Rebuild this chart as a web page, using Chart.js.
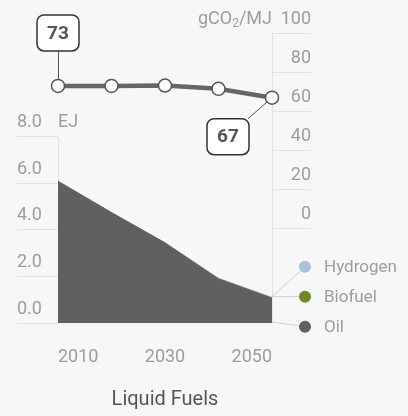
<!DOCTYPE html>
<html>
<head>
<meta charset="utf-8">
<script src="https://cdn.jsdelivr.net/npm/chart.js@4"></script>
<style>
  html, body { margin: 0; padding: 0; background: #f7f7f7; }
  #wrap { width: 408px; height: 416px; }
</style>
</head>
<body>
<div id="wrap"><canvas id="fuel-chart" width="408" height="416"></canvas></div>
<script>
const years = ["2010", "2020", "2030", "2040", "2050"];
const yearLabels = ["2010", "", "2030", "", "2050"];
const oil = [6.1, 4.75, 3.45, 1.9, 1.07];
const biofuel = [0, 0, 0, 0.01, 0.01];
const hydrogen = [0, 0, 0.01, 0.04, 0.05];
const intensity = [73, 73, 73.2, 71.5, 67];
const energyTicks = [0, 2, 4, 6, 8];
const intensityTicks = [0, 20, 40, 60, 80, 100];
const legendNames = ["Hydrogen", "Biofuel", "Oil"];
const calloutIndexes = [0, 4];

const colors = { oil: "#606060", biofuel: "#6e8b23", hydrogen: "#a9c1dd", line: "#666666", tick: "#9d9d9d", grid: "#e3e3e3" };
const FONT = "Roboto";

function roundRect(ctx, x, y, w, h, r) {
    ctx.beginPath();
    ctx.moveTo(x + r, y);
    ctx.arcTo(x + w, y, x + w, y + h, r);
    ctx.arcTo(x + w, y + h, x, y + h, r);
    ctx.arcTo(x, y + h, x, y, r);
    ctx.arcTo(x, y, x + w, y, r);
    ctx.closePath();
}

const extras = {
    id: "extras",
    beforeDatasetsDraw(chart) {
        const ctx = chart.ctx;
        const area = chart.chartArea;
        const yE = chart.scales.yE;
        const yC = chart.scales.yC;
        ctx.save();
        ctx.strokeStyle = colors.grid;
        ctx.lineWidth = 1;
        // axis lines
        ctx.beginPath();
        ctx.moveTo(area.left + 0.5, yE.getPixelForValue(8));
        ctx.lineTo(area.left + 0.5, yE.getPixelForValue(0));
        ctx.moveTo(area.right + 0.5, yC.getPixelForValue(100));
        ctx.lineTo(area.right + 0.5, area.bottom);
        ctx.stroke();

        // callout connectors
        const pts = chart.getDatasetMeta(0).data;
        ctx.strokeStyle = "#555";
        ctx.beginPath();
        const p0 = pts[calloutIndexes[0]];
        ctx.moveTo(p0.x + 0.5, p0.y - 35);
        ctx.lineTo(p0.x + 0.5, p0.y);
        const p1 = pts[calloutIndexes[1]];
        ctx.moveTo(p1.x - 24, p1.y + 21);
        ctx.lineTo(p1.x, p1.y);
        ctx.stroke();

        // legend connectors
        const last = years.length - 1;
        const top = yE.getPixelForValue(oil[last] + biofuel[last] + hydrogen[last]);
        const base = yE.getPixelForValue(0);
        const dx = area.right + 33;
        ctx.strokeStyle = "#cfcfcf";
        ctx.beginPath();
        ctx.moveTo(area.right, top);
        ctx.lineTo(dx, top - 30);
        ctx.moveTo(area.right, top);
        ctx.lineTo(dx, top);
        ctx.moveTo(area.right, base - 1);
        ctx.lineTo(dx, top + 30);
        ctx.stroke();
        ctx.restore();
    },
    afterDraw(chart) {
        const ctx = chart.ctx;
        const area = chart.chartArea;
        const yE = chart.scales.yE;
        const yC = chart.scales.yC;
        ctx.save();

        // unit labels
        ctx.fillStyle = colors.tick;
        ctx.textBaseline = "middle";
        ctx.font = "18px " + FONT;
        ctx.textAlign = "left";
        ctx.fillText("EJ", area.left, yE.getPixelForValue(8) - 14);

        const uy = yC.getPixelForValue(100) - 14;
        ctx.font = "18px " + FONT;
        const w1 = ctx.measureText("gCO").width;
        const w3 = ctx.measureText("/MJ").width;
        ctx.font = "12px " + FONT;
        const w2 = ctx.measureText("2").width;
        let ux = area.right - (w1 + w2 + w3);
        ctx.font = "18px " + FONT;
        ctx.fillText("gCO", ux, uy);
        ctx.font = "12px " + FONT;
        ctx.fillText("2", ux + w1, uy + 5);
        ctx.font = "18px " + FONT;
        ctx.fillText("/MJ", ux + w1 + w2, uy);

        // callout boxes
        const pts = chart.getDatasetMeta(0).data;
        const boxes = [
            { x: pts[calloutIndexes[0]].x, y: pts[calloutIndexes[0]].y - 53, text: String(intensity[calloutIndexes[0]]) },
            { x: pts[calloutIndexes[1]].x - 44, y: pts[calloutIndexes[1]].y + 39, text: String(intensity[calloutIndexes[1]]) }
        ];
        boxes.forEach(b => {
            roundRect(ctx, b.x - 21, b.y - 18, 42, 36, 7);
            ctx.fillStyle = "#ffffff";
            ctx.fill();
            ctx.strokeStyle = "#333";
            ctx.lineWidth = 1.5;
            ctx.stroke();
            ctx.fillStyle = "#555";
            ctx.font = "bold 19px " + FONT;
            ctx.textAlign = "center";
            ctx.fillText(b.text, b.x, b.y + 1);
        });

        // legend
        const last = years.length - 1;
        const top = yE.getPixelForValue(oil[last] + biofuel[last] + hydrogen[last]);
        const dotColors = [colors.hydrogen, colors.biofuel, colors.oil];
        legendNames.forEach((name, i) => {
            const y = top + (i - 1) * 30;
            ctx.beginPath();
            ctx.arc(area.right + 33, y, 6, 0, Math.PI * 2);
            ctx.fillStyle = dotColors[i];
            ctx.fill();
            ctx.fillStyle = colors.tick;
            ctx.font = "17px " + FONT;
            ctx.textAlign = "left";
            ctx.fillText(name, area.right + 52, y + 1);
        });

        // title
        ctx.fillStyle = "#555";
        ctx.font = "20px " + FONT;
        ctx.textAlign = "center";
        ctx.fillText("Liquid Fuels", (area.left + area.right) / 2, 400);
        ctx.restore();
    }
};

const tickFont = { family: FONT, size: 18 };

new Chart(document.getElementById("fuel-chart"), {
    type: "line",
    data: {
        labels: years,
        datasets: [
            {
                label: "Carbon intensity",
                data: intensity,
                yAxisID: "yC",
                borderColor: colors.line,
                borderWidth: 4.5,
                pointRadius: 6.5,
                pointBorderWidth: 1.5,
                pointBorderColor: "#555",
                pointBackgroundColor: "#ffffff",
                tension: 0,
                fill: false
            },
            {
                label: "Oil",
                data: oil,
                yAxisID: "yE",
                borderColor: colors.oil,
                borderWidth: 1,
                backgroundColor: colors.oil,
                pointRadius: 0,
                fill: "origin"
            },
            {
                label: "Biofuel",
                data: biofuel,
                yAxisID: "yE",
                borderColor: "transparent",
                borderWidth: 1,
                backgroundColor: colors.biofuel,
                pointRadius: 0,
                fill: "-1"
            },
            {
                label: "Hydrogen",
                data: hydrogen,
                yAxisID: "yE",
                borderColor: "transparent",
                borderWidth: 1,
                backgroundColor: colors.hydrogen,
                pointRadius: 0,
                fill: "-1"
            }
        ]
    },
    options: {
        responsive: false,
        animation: false,
        layout: { padding: { left: 17, right: 97, top: 33, bottom: 53 } },
        plugins: {
            legend: { display: false },
            tooltip: { enabled: false }
        },
        scales: {
            x: {
                offset: false,
                grid: { display: false },
                border: { display: false },
                ticks: {
                    autoSkip: false,
                    maxRotation: 0,
                    align: "inner",
                    padding: 16,
                    color: colors.tick,
                    font: tickFont,
                    callback: (v, i) => yearLabels[i]
                },
                afterFit: s => { s.height = 40; }
            },
            yE: {
                position: "left",
                stacked: true,
                min: 0,
                max: 12.47,
                afterBuildTicks: s => { s.ticks = energyTicks.map(v => ({ value: v })); },
                grid: { drawOnChartArea: false, tickLength: 41, color: colors.grid },
                border: { display: false },
                ticks: {
                    crossAlign: "far",
                    labelOffset: -14,
                    padding: 0,
                    color: colors.tick,
                    font: tickFont,
                    callback: v => Number(v).toFixed(1)
                },
                afterFit: s => { s.width = 41; }
            },
            yC: {
                position: "right",
                min: -48,
                max: 100,
                afterBuildTicks: s => { s.ticks = intensityTicks.map(v => ({ value: v })); },
                grid: { drawOnChartArea: false, tickLength: 39, color: colors.grid },
                border: { display: false },
                ticks: {
                    crossAlign: "far",
                    labelOffset: -14,
                    padding: 0,
                    color: colors.tick,
                    font: tickFont,
                    callback: v => String(v)
                },
                afterFit: s => { s.width = 39; }
            }
        }
    },
    plugins: [extras]
});
</script>
</body>
</html>
